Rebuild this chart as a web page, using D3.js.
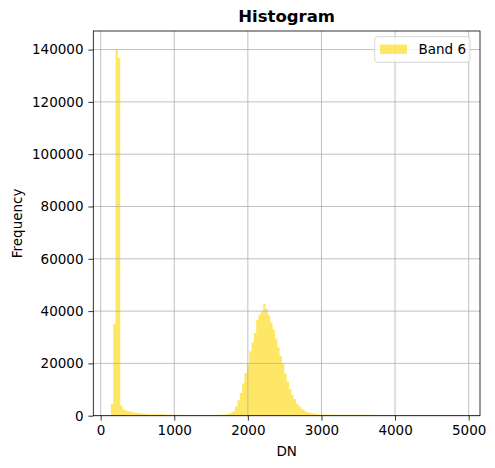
<!DOCTYPE html>
<html>
<head>
<meta charset="utf-8">
<script src="https://cdn.jsdelivr.net/npm/d3@7"></script>
<style>
  body { margin: 0; background: #fff; }
  text { font-family: "DejaVu Sans", sans-serif; fill: #000; }
</style>
</head>
<body>
<div id="chart"></div>
<script>
var svgWidth = 495;
var svgHeight = 468;

// histogram: 150 bins starting at binStart, each binWidth wide
var binStart = 139;
var binWidth = 31.84;
var counts = [
  4470, 35060, 140100, 136800, 3900, 2400, 2000, 1700, 1500, 1300,
  1200, 1000, 900, 800, 700, 650, 600, 600, 600, 600,
  580, 560, 550, 450, 400, 550, 350, 320, 320, 320,
  310, 310, 300, 300, 300, 300, 300, 300, 300, 300,
  300, 300, 300, 300, 300, 320, 340, 380, 500, 600,
  800, 1200, 1700, 3600, 5900, 8650, 12300, 16300, 20000, 24600,
  28000, 31600, 36600, 38800, 40000, 42800, 40900, 38400, 35700, 33000,
  29500, 26200, 22800, 19900, 16100, 13000, 10200, 7900, 6400, 4600,
  3600, 2700, 2100, 1400, 1200, 1100, 800, 750, 520, 500,
  480, 470, 460, 450, 440, 420, 400, 400, 390, 380,
  380, 370, 360, 360, 350, 350, 340, 340, 330, 330,
  320, 320, 310, 310, 300, 0, 0, 0, 0, 0,
  0, 0, 0, 0, 0, 0, 0, 0, 0, 0,
  0, 0, 0, 0, 0, 0, 0, 0, 0, 0,
  0, 0, 0, 0, 0, 0, 0, 0, 0, 20
];
var xTicks = [0, 1000, 2000, 3000, 4000, 5000];
var yTicks = [0, 20000, 40000, 60000, 80000, 100000, 120000, 140000];
var seriesName = "Band 6";

var plotLeft = 93.3, plotRight = 480, plotTop = 31, plotBottom = 415.7;

var svg = d3.select("#chart")
  .append("svg")
  .attr("width", svgWidth)
  .attr("height", svgHeight);

svg.append("rect")
  .attr("width", svgWidth)
  .attr("height", svgHeight)
  .attr("fill", "#fff");

// scales (matplotlib style 5% margins on x, 5% headroom on y)
var lo = binStart;
var hi = binStart + counts.length * binWidth;
var pad = (hi - lo) * 0.05;
var xScale = d3.scaleLinear()
  .domain([lo - pad, hi + pad])
  .range([plotLeft, plotRight]);
var yMax = d3.max(counts);
var yScale = d3.scaleLinear()
  .domain([0, yMax * 1.05])
  .range([plotBottom, plotTop]);

// bars, drawn as one stepped outline so neighbouring bins leave no seams
var steps = counts.map(function(d, i) {
  return { x: binStart + i * binWidth, y: d };
});
steps.push({ x: hi, y: counts[counts.length - 1] });
var histArea = d3.area()
  .curve(d3.curveStepAfter)
  .x(function(d) { return xScale(d.x); })
  .y0(yScale(0))
  .y1(function(d) { return yScale(d.y); });
svg.append("path")
  .datum(steps)
  .attr("d", histArea)
  .attr("fill", "gold")
  .attr("fill-opacity", 0.6);

// grid
var grid = svg.append("g")
  .attr("stroke", "#b0b0b0")
  .attr("stroke-width", 0.8);
grid.selectAll("line.vx")
  .data(xTicks)
  .enter()
  .append("line")
  .attr("x1", function(d) { return xScale(d); })
  .attr("x2", function(d) { return xScale(d); })
  .attr("y1", plotTop)
  .attr("y2", plotBottom);
grid.selectAll("line.hy")
  .data(yTicks)
  .enter()
  .append("line")
  .attr("x1", plotLeft)
  .attr("x2", plotRight)
  .attr("y1", function(d) { return yScale(d); })
  .attr("y2", function(d) { return yScale(d); });

// axes
var xAxis = d3.axisBottom(xScale)
  .tickValues(xTicks)
  .tickSize(4.9)
  .tickPadding(4.9)
  .tickFormat(d3.format("d"));
var gx = svg.append("g")
  .attr("transform", "translate(0," + plotBottom + ")")
  .call(xAxis);
var yAxis = d3.axisLeft(yScale)
  .tickValues(yTicks)
  .tickSize(4.9)
  .tickPadding(4.9)
  .tickFormat(d3.format("d"));
var gy = svg.append("g")
  .attr("transform", "translate(" + plotLeft + ",0)")
  .call(yAxis);
[gx, gy].forEach(function(g) {
  g.select(".domain").remove();
  g.selectAll("line").attr("stroke", "#000").attr("stroke-width", 0.8);
  g.selectAll("text")
    .style("font-family", "DejaVu Sans")
    .style("font-size", "13.5px")
    .attr("fill", "#000");
});

// frame
svg.append("rect")
  .attr("x", plotLeft)
  .attr("y", plotTop)
  .attr("width", plotRight - plotLeft)
  .attr("height", plotBottom - plotTop)
  .attr("fill", "none")
  .attr("stroke", "#000")
  .attr("stroke-width", 0.8);

// labels
svg.append("text")
  .attr("x", (plotLeft + plotRight) / 2)
  .attr("y", 22)
  .attr("text-anchor", "middle")
  .style("font-size", "16.5px")
  .style("font-weight", "bold")
  .text("Histogram");
svg.append("text")
  .attr("x", (plotLeft + plotRight) / 2)
  .attr("y", 456)
  .attr("text-anchor", "middle")
  .style("font-size", "13.5px")
  .text("DN");
svg.append("text")
  .attr("transform", "translate(22," + ((plotTop + plotBottom) / 2) + ") rotate(-90)")
  .attr("text-anchor", "middle")
  .style("font-size", "13.5px")
  .text("Frequency");

// legend
var legend = svg.append("g");
legend.append("rect")
  .attr("x", 374.7)
  .attr("y", 36.7)
  .attr("width", 95.3)
  .attr("height", 25.6)
  .attr("rx", 2.8)
  .attr("fill", "#fff")
  .attr("fill-opacity", 0.8)
  .attr("stroke", "#cccccc")
  .attr("stroke-width", 0.8);
legend.append("rect")
  .attr("x", 380)
  .attr("y", 44.5)
  .attr("width", 27)
  .attr("height", 9.5)
  .attr("fill", "gold")
  .attr("fill-opacity", 0.6);
legend.append("text")
  .attr("x", 418.5)
  .attr("y", 54)
  .style("font-size", "13.5px")
  .text(seriesName);
</script>
</body>
</html>
